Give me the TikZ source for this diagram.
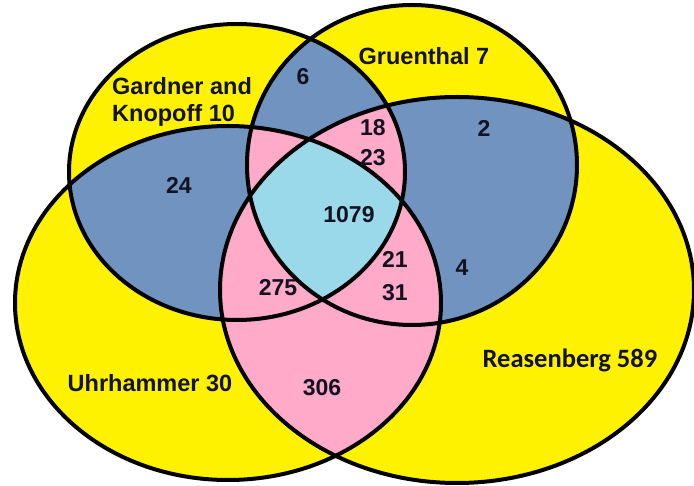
\documentclass[tikz,border=0pt]{standalone}
\usepackage{fontspec}
\setmainfont{Liberation Sans}
\newfontfamily\carlito{Carlito}
\definecolor{vyellow}{RGB}{255,242,0}
\definecolor{vblue}{RGB}{112,147,192}
\definecolor{vpink}{RGB}{255,170,201}
\definecolor{vcyan}{RGB}{153,217,234}
\definecolor{vtext}{RGB}{18,18,32}
\def\ellG{(237,172) ellipse [x radius=168, y radius=148]}
\def\ellR{(412,165) ellipse [x radius=165, y radius=160]}
\def\ellU{(228,303) ellipse [x radius=213, y radius=177]}
\def\ellS{(457,290) ellipse [x radius=237, y radius=193]}
\tikzset{
  lbl/.style={font=\fontsize{23.5}{27}\selectfont\bfseries, text=vtext, inner sep=0pt},
  num/.style={font=\fontsize{23}{26}\selectfont\bfseries, text=vtext, inner sep=0pt},
  outline/.style={draw=black, line width=4pt}
}
\begin{document}
\begin{tikzpicture}[x=1pt,y=-1pt]
\useasboundingbox[fill=white] (0,0) rectangle (694,486);
% single sets
\fill[vyellow] \ellG;
\fill[vyellow] \ellR;
\fill[vyellow] \ellU;
\fill[vyellow] \ellS;
% pairs
\begin{scope}\clip \ellG; \fill[vblue] \ellU; \end{scope}
\begin{scope}\clip \ellG; \fill[vblue] \ellR; \end{scope}
\begin{scope}\clip \ellR; \fill[vblue] \ellS; \end{scope}
\begin{scope}\clip \ellG; \fill[vblue] \ellS; \end{scope}
\begin{scope}\clip \ellU; \fill[vblue] \ellR; \end{scope}
\begin{scope}\clip \ellU; \fill[vpink] \ellS; \end{scope}
% triples
\begin{scope}\clip \ellG; \clip \ellU; \fill[vpink] \ellR; \end{scope}
\begin{scope}\clip \ellG; \clip \ellR; \fill[vpink] \ellS; \end{scope}
\begin{scope}\clip \ellG; \clip \ellU; \fill[vpink] \ellS; \end{scope}
\begin{scope}\clip \ellU; \clip \ellR; \fill[vpink] \ellS; \end{scope}
% all four
\begin{scope}\clip \ellG; \clip \ellU; \clip \ellR; \fill[vcyan] \ellS; \end{scope}
% outlines
\draw[outline] \ellG;
\draw[outline] \ellR;
\draw[outline] \ellU;
\draw[outline] \ellS;
% labels
\node[lbl, align=left, anchor=north west] (gk) at (112,77) {Gardner and\\Knopoff 10};
\node[lbl] (gr) at (424,56) {Gruenthal 7};
\node[lbl] (uh) at (150,383) {Uhrhammer 30};
\node[lbl, font=\carlito\fontsize{26.5}{30}\selectfont\bfseries] (rs) at (570,360) {Reasenberg 589};
% numbers
\node[num] (n6) at (303,77) {6};
\node[num] (n24) at (179,185) {24};
\node[num] (n18) at (373,128) {18};
\node[num] (n23) at (373,158) {23};
\node[num] (n2) at (484,128) {2};
\node[num] (n1079) at (349,215) {1079};
\node[num] (n21) at (395,259) {21};
\node[num] (n31) at (395,293) {31};
\node[num] (n275) at (278,288) {275};
\node[num] (n4) at (462,268) {4};
\node[num] (n306) at (322,388) {306};
\end{tikzpicture}
\end{document}
